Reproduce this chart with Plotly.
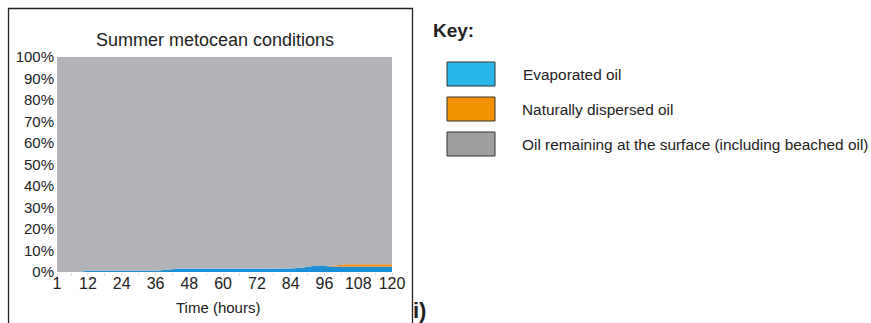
import plotly.graph_objects as go

hours = [1, 8, 12, 24, 36, 40, 44, 48, 60, 72, 84, 88, 92, 96, 100, 104, 108, 120]
evaporated = [0, 0, 0.6, 0.6, 0.6, 1.0, 1.5, 1.5, 1.5, 1.5, 1.6, 2.0, 2.8, 2.8, 2.4, 2.4, 2.4, 2.4]
dispersed = [0, 0, 0, 0, 0, 0, 0, 0, 0, 0, 0, 0, 0, 0, 0.6, 1.2, 1.2, 1.2]
surface = [100 - e - d for e, d in zip(evaporated, dispersed)]

series_names = ["Evaporated oil", "Naturally dispersed oil",
                "Oil remaining at the surface (including beached oil)"]
chart_colors = ["#1a8fd6", "#f28c1c", "#b1b3b8"]
key_colors = ["#29b6e9", "#f39200", "#9d9d9c"]
x_ticks = [1, 12, 24, 36, 48, 60, 72, 84, 96, 108, 120]
x_minor = list(range(6, 120, 6))
y_ticks = list(range(0, 101, 10))

fig = go.Figure()
for name, vals, col in zip(series_names, [evaporated, dispersed, surface], chart_colors):
    fig.add_trace(go.Scatter(x=hours, y=vals, name=name, stackgroup="one",
                             mode="lines", line=dict(width=0, color=col),
                             fillcolor=col, showlegend=False, hoverinfo="skip"))

L, R, T, B = 57, 392, 57, 272
W, H = 871, 323
pw, ph = R - L, B - T

def px(x):
    return (x - L) / pw

def py(y):
    return (B - y) / ph

shapes = [dict(type="rect", xref="paper", yref="paper",
               x0=px(8.5), x1=px(412.5), y0=py(340), y1=py(8.5),
               line=dict(color="#222222", width=1.3), fillcolor="rgba(0,0,0,0)")]
annotations = [
    dict(text="Summer metocean conditions", x=px(215), y=py(40), xref="paper", yref="paper",
         showarrow=False, font=dict(size=18, color="#222222"), xanchor="center", yanchor="middle"),
    dict(text="Time (hours)", x=px(218), y=py(307), xref="paper", yref="paper",
         showarrow=False, font=dict(size=15, color="#222222"), xanchor="center", yanchor="middle"),
    dict(text="<b>Key:</b>", x=px(431), y=py(30), xref="paper", yref="paper",
         showarrow=False, font=dict(size=19, color="#222222"), xanchor="left", yanchor="middle"),
    dict(text="<b>i)</b>", x=px(411), y=py(310), xref="paper", yref="paper",
         showarrow=False, font=dict(size=22, color="#222222"), xanchor="left", yanchor="middle"),
]
key_tops = [62, 97, 132]
text_x = [521, 520, 520]
for name, col, top, tx in zip(series_names, key_colors, key_tops, text_x):
    shapes.append(dict(type="rect", xref="paper", yref="paper",
                       x0=px(447), x1=px(495), y0=py(top + 24), y1=py(top),
                       line=dict(color="#333333", width=1), fillcolor=col))
    annotations.append(dict(text=name, x=px(tx), y=py(top + 12.5), xref="paper", yref="paper",
                            showarrow=False, font=dict(size=15.4, color="#222222"),
                            xanchor="left", yanchor="middle"))

fig.update_layout(
    width=W, height=H,
    margin=dict(l=L, r=W - R, t=T, b=H - B),
    paper_bgcolor="white", plot_bgcolor="white",
    font=dict(family="Liberation Sans, Arial, sans-serif", color="#222222"),
    shapes=shapes, annotations=annotations,
    xaxis=dict(range=[1, 120], tickvals=x_ticks, ticktext=[str(t) for t in x_ticks],
               showgrid=False, zeroline=False, ticks="outside", ticklen=3,
               tickcolor="#dddddd", tickfont=dict(size=16), showline=False,
               ticklabelstandoff=-6,
               minor=dict(tickvals=x_minor, ticks="outside", ticklen=3, tickcolor="#dddddd")),
    yaxis=dict(range=[0, 100], tickvals=y_ticks, ticktext=[f"{t}%" for t in y_ticks],
               showgrid=False, zeroline=False, ticks="", tickfont=dict(size=15),
               showline=False, ticklabelstandoff=2),
)
fig.write_html("out.html", config={"displayModeBar": False},
               post_script="document.body.style.margin='0';")
